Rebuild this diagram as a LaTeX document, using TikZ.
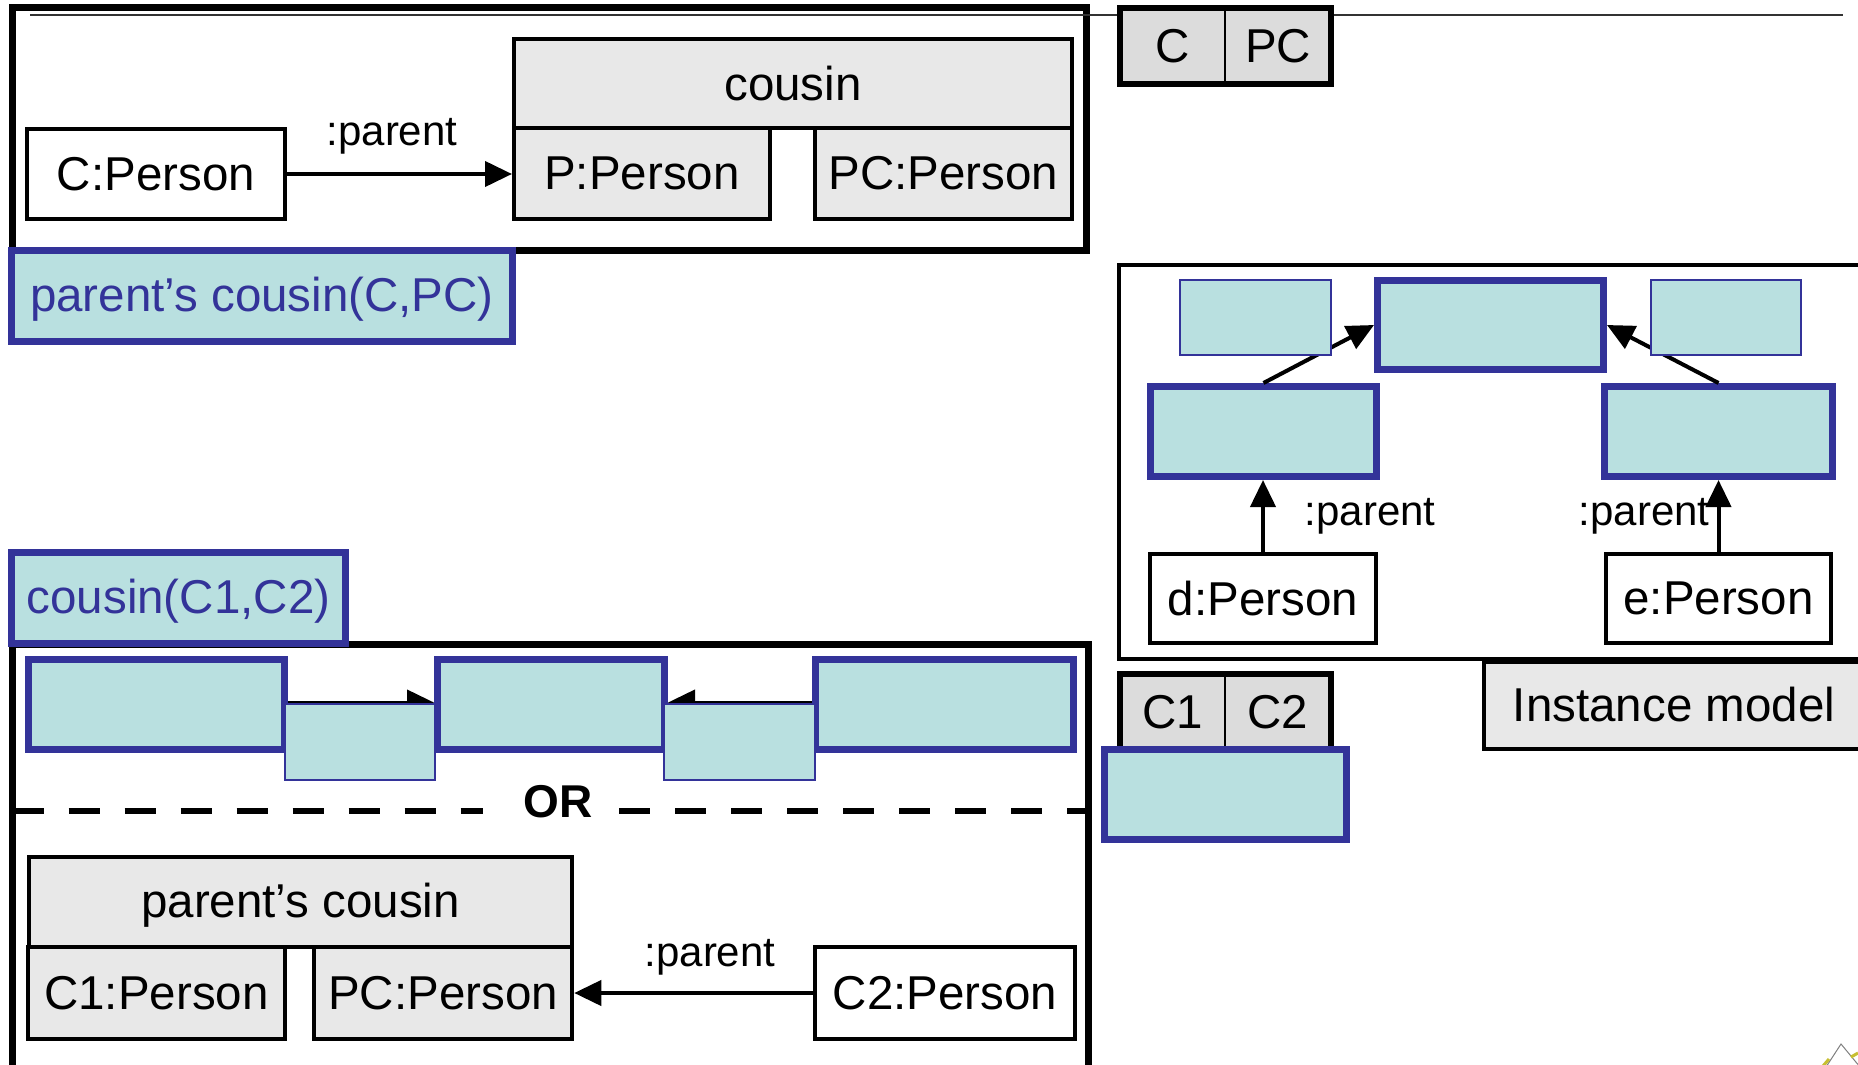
\documentclass[tikz,border=0pt]{standalone}
\usepackage{fontspec}
\setmainfont{Liberation Sans}
\usetikzlibrary{arrows.meta,calc}
\definecolor{tealfill}{HTML}{B9E0E0}
\definecolor{navy}{HTML}{333399}
\definecolor{boxgray}{HTML}{E8E8E8}
\definecolor{cellgray}{HTML}{DCDCDC}
\newcommand{\mainfs}{\fontsize{23.75}{28}\selectfont}
\newcommand{\lblfs}{\fontsize{21}{25}\selectfont}

\begin{document}
\begin{tikzpicture}[x=0.5pt,y=-0.5pt,
  sz/.style 2 args={minimum width=#1*0.5pt,minimum height=#2*0.5pt},
  obj/.style={draw,line width=2pt,fill=white,inner sep=0pt,font=\mainfs},
  gobj/.style={obj,fill=boxgray},
  match/.style={draw=navy,fill=tealfill,line width=3.5pt,inner sep=0pt},
  matchthin/.style={draw=navy,fill=tealfill,line width=1.2pt,inner sep=0pt},
  tagbox/.style={match,text=navy,font=\mainfs,text height=17.3pt,text depth=2pt},
  cell/.style={fill=cellgray,inner sep=0pt,outer sep=0pt,font=\mainfs},
  role/.style={font=\lblfs,inner sep=0pt,anchor=base},
  link/.style={line width=2pt,-{Triangle[length=13.5pt,width=12.5pt]}},
  frame/.style={line width=3.5pt},
  sepline/.style={line width=3pt,dash pattern=on 15.5pt off 12.5pt},
]
\useasboundingbox (0,0) rectangle (1858,1065);
\fill[white] (0,0) rectangle (1858,1065);
\clip (0,0) rectangle (1858,1065);

% ---- rule: parent's cousin(C,PC) ----
\draw[frame] (12,8) rectangle (1086,250);
\draw[black!80,line width=1pt] (30,15) -- (1843,15);

\node[obj,sz={258}{90}] (cA) at (156,174) {C:Person};
\node[gobj,sz={558}{89}] (cousinH) at (793,83.5) {cousin};
\node[gobj,sz={256}{91}] (pA) at (642,173.5) {P:Person};
\node[gobj,sz={257}{91}] (pcA) at (943.5,173.5) {PC:Person};
\draw[link] (cA.east) -- (cA.east -| pA.west);
\node[role] (rA) at (392,146) {:parent};
\node[tagbox,sz={501}{91}] (tagA) at (262,296) {parent’s cousin(C,PC)};

% parameter header C | PC
\node[cell,sz={105}{76}] (hC) at (1172.5,46) {C};
\node[cell,sz={106}{76}] (hPC) at (1278,46) {PC};
\draw[line width=3pt] (hC.north west) rectangle (hPC.south east);
\draw[line width=1pt] (hC.north east) -- (hC.south east);

% ---- instance model ----
\draw[line width=2pt] (1118.5,264.5) rectangle (1880,658.5);
\node[match,sz={226}{90}] (lm) at (1263.5,431.5) {};
\node[match,sz={228}{90}] (rm) at (1718.5,431.5) {};
\node[match,sz={226}{89}] (mid) at (1490.5,325) {};
\draw[link] (lm.north) -- (mid.west);
\draw[link] (rm.north) -- (mid.east);
\node[matchthin,sz={151}{75}] (tl) at (1255.5,317.5) {};
\node[matchthin,sz={150}{75}] (tr) at (1726,317.5) {};
\node[obj,sz={226}{89}] (dP) at (1263,598.5) {d:Person};
\node[obj,sz={225}{89}] (eP) at (1718.5,598.5) {e:Person};
\draw[link] (dP.north) -- (dP.north |- lm.south);
\draw[link] (eP.north) -- (eP.north |- rm.south);
\node[role] (rD) at (1370,525) {:parent};
\node[role] (rE) at (1644,525) {:parent};

\node[gobj,sz={380}{87}] (inst) at (1674,705) {Instance model};

% parameter header C1 | C2 with its match
\node[cell,sz={105}{76}] (hC1) at (1172.5,712) {C1};
\node[cell,sz={106}{76}] (hC2) at (1278,712) {C2};
\draw[line width=3pt] (hC1.north west) rectangle (hC2.south east);
\draw[line width=1pt] (hC1.north east) -- (hC1.south east);
\node[match,sz={242}{90}] (bind) at (1225.5,794.5) {};

% ---- rule: cousin(C1,C2) ----
\draw[frame] (12.5,1090) -- (12.5,644) -- (1088,644) -- (1088,1090);
\node[tagbox,sz={334}{91}] (tagB) at (178.5,598) {cousin(C1,C2)};

\node[match,sz={256}{90}] (b1) at (156.5,704.5) {};
\node[match,sz={227}{90}] (b2) at (551,704.5) {};
\node[match,sz={258}{90}] (b3) at (944.5,704.5) {};
\draw[link] ($(b1.east)+(0,-2)$) -- ($(b2.west)+(0,-2)$);
\draw[link] ($(b3.west)+(0,-2)$) -- ($(b2.east)+(0,-2)$);
\node[matchthin,sz={150}{76}] (s1) at (360,742) {};
\node[matchthin,sz={151}{76}] (s2) at (739.5,742) {};

\node[font=\bfseries\fontsize{23}{27}\selectfont,inner sep=0pt,anchor=base] (orL) at (558,817) {OR};
\draw[sepline] (12.5,811) -- (483,811);
\draw[sepline] (619,811) -- (1088,811);

\node[gobj,sz={543}{90},text height=17pt,text depth=1.5pt] (pcH) at (300.5,902) {parent’s cousin};
\node[gobj,sz={257}{91.5}] (c1P) at (156.5,993) {C1:Person};
\node[gobj,sz={258.5}{91.5}] (pcB) at (443,993) {PC:Person};
\node[obj,sz={260}{91.5}] (c2P) at (945,993) {C2:Person};
\draw[link] (c2P.west) -- (c2P.west -| pcB.east);
\node[role] (rB) at (710,966) {:parent};

% corner mark
\filldraw[fill=white,draw=gray,line width=0.5pt] (1841,1044) -- (1826,1067) -- (1860,1067) -- cycle;
\draw[yellow!75!black,line width=1.5pt] (1823,1066) -- (1829,1059);
\draw[yellow!75!black,line width=1.5pt] (1851,1057) -- (1858,1053);
\end{tikzpicture}
\end{document}
